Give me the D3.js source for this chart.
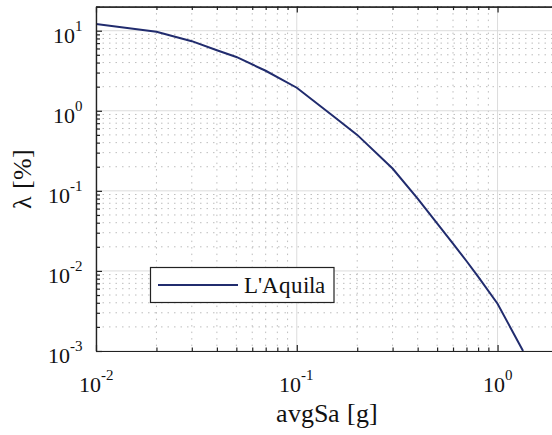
<!DOCTYPE html>
<html>
<head>
<meta charset="utf-8">
<script src="https://cdn.jsdelivr.net/npm/d3@7"></script>
<style>
  @font-face {
    font-family: "ChartSerif";
    src: local("Liberation Serif"), local("LiberationSerif"), local("LiberationSerif-Regular"), local("Times New Roman"), local("Tinos");
  }
  html, body { margin: 0; padding: 0; background: #fff; }
  svg text, svg tspan {
    font-family: "ChartSerif", "Liberation Serif", "Times New Roman", Tinos !important;
  }
</style>
</head>
<body>
<script>
// Hazard curve: mean annual rate of exceedance vs. average spectral acceleration
const imLevels = [0.01, 0.02, 0.03, 0.04, 0.05, 0.07, 0.1, 0.15, 0.2, 0.3, 0.4, 0.5, 0.6, 0.7, 0.8, 1.0, 1.34];
const exceedRate = [12.1, 9.7, 7.4, 5.7, 4.7, 3.16, 1.94, 0.88, 0.50, 0.19, 0.080, 0.0392, 0.0219, 0.0133, 0.0085, 0.0039, 0.001];
const seriesName = "L'Aquila";

const xMajorTicks = [0.01, 0.1, 1];
const xTickExponents = ["-2", "-1", "0"];
const yMajorTicks = [0.001, 0.01, 0.1, 1, 10];
const yTickExponents = ["-3", "-2", "-1", "0", "1"];

const xTitle = "avgSa [g]";
const yTitle = "\u03bb [%]";

const W = 552, H = 435;
const plot = { left: 96, right: 558, top: 6.6, bottom: 351 };

const svg = d3.select("body").append("svg")
  .attr("width", W).attr("height", H)
  .attr("font-family", "Liberation Serif");

const x = d3.scaleLog().domain([0.01, 2]).range([plot.left, plot.right]);
const y = d3.scaleLog().domain([0.001, 20]).range([plot.bottom, plot.top]);

// minor tick positions (2..9 within each decade)
function minors(lo, hi) {
  const out = [];
  for (let e = Math.floor(Math.log10(lo)); e <= Math.ceil(Math.log10(hi)); e++) {
    for (let m = 2; m <= 9; m++) {
      const v = m * Math.pow(10, e);
      if (v >= lo * 0.999 && v <= hi * 1.001) out.push(v);
    }
  }
  return out;
}
const xMinor = minors(0.01, 2);
const yMinor = minors(0.001, 20);

svg.append("defs").append("clipPath").attr("id", "plotclip")
  .append("rect")
  .attr("x", plot.left).attr("y", plot.top)
  .attr("width", plot.right - plot.left).attr("height", plot.bottom - plot.top);

// grid
const grid = svg.append("g");
grid.selectAll(".xminor").data(xMinor).join("line")
  .attr("x1", d => x(d)).attr("x2", d => x(d))
  .attr("y1", plot.top).attr("y2", plot.bottom)
  .attr("stroke", "#bdbdbd").attr("stroke-width", 1)
  .attr("stroke-dasharray", "1.5,5");
grid.selectAll(".yminor").data(yMinor).join("line")
  .attr("y1", d => y(d)).attr("y2", d => y(d))
  .attr("x1", plot.left).attr("x2", plot.right)
  .attr("stroke", "#bdbdbd").attr("stroke-width", 1)
  .attr("stroke-dasharray", "1.5,5");
grid.selectAll(".xmajor").data(xMajorTicks).join("line")
  .attr("x1", d => x(d)).attr("x2", d => x(d))
  .attr("y1", plot.top).attr("y2", plot.bottom)
  .attr("stroke", "#dcdcdc").attr("stroke-width", 1);
grid.selectAll(".ymajor").data(yMajorTicks).join("line")
  .attr("y1", d => y(d)).attr("y2", d => y(d))
  .attr("x1", plot.left).attr("x2", plot.right)
  .attr("stroke", "#dcdcdc").attr("stroke-width", 1);

// curve
const pts = imLevels.map((v, i) => [v, exceedRate[i]]);
svg.append("path")
  .datum(pts)
  .attr("clip-path", "url(#plotclip)")
  .attr("fill", "none")
  .attr("stroke", "#212c6e")
  .attr("stroke-width", 2)
  .attr("d", d3.line().x(d => x(d[0])).y(d => y(d[1])));

// axes (ticks point inward)
function styleAxis(g) {
  g.attr("font-family", null).attr("font-size", null);
  g.selectAll("path.domain").attr("stroke", "#222").attr("stroke-width", 1.2);
  g.selectAll(".tick line").attr("stroke", "#222").attr("stroke-width", 1.2);
  g.selectAll(".tick text").remove();
}
svg.append("g").attr("transform", `translate(0,${plot.bottom})`)
  .call(d3.axisBottom(x).tickValues(xMinor).tickSize(-3.5).tickSizeOuter(0).tickFormat(""))
  .call(styleAxis);
svg.append("g").attr("transform", `translate(0,${plot.bottom})`)
  .call(d3.axisBottom(x).tickValues(xMajorTicks).tickSize(-6).tickSizeOuter(0).tickFormat(""))
  .call(styleAxis);
svg.append("g").attr("transform", `translate(0,${plot.top})`)
  .call(d3.axisTop(x).tickValues(xMinor).tickSize(-3.5).tickSizeOuter(0).tickFormat(""))
  .call(styleAxis);
svg.append("g").attr("transform", `translate(0,${plot.top})`)
  .call(d3.axisTop(x).tickValues(xMajorTicks).tickSize(-6).tickSizeOuter(0).tickFormat(""))
  .call(styleAxis);
svg.append("g").attr("transform", `translate(${plot.left},0)`)
  .call(d3.axisLeft(y).tickValues(yMinor).tickSize(-4).tickSizeOuter(0).tickFormat(""))
  .call(styleAxis);
svg.append("g").attr("transform", `translate(${plot.left},0)`)
  .call(d3.axisLeft(y).tickValues(yMajorTicks).tickSize(-6).tickSizeOuter(0).tickFormat(""))
  .call(styleAxis);

// text helper (serif type throughout)
function label(sel, size) {
  return sel.append("text")
    .attr("font-family", "Liberation Serif")
    .attr("font-size", size)
    .attr("fill", "#111");
}

// tick labels as 10 with superscript exponent
const xl = svg.append("g");
xMajorTicks.forEach((v, i) => {
  const t = label(xl, 22)
    .attr("x", x(v)).attr("y", 392)
    .attr("text-anchor", "middle");
  t.append("tspan").text("10");
  t.append("tspan").attr("dy", -12).attr("font-size", 15).text(xTickExponents[i]);
});
const yl = svg.append("g");
yMajorTicks.forEach((v, i) => {
  const t = label(yl, 22)
    .attr("x", 83).attr("y", y(v) + 12)
    .attr("text-anchor", "end");
  t.append("tspan").text("10");
  t.append("tspan").attr("dy", -12).attr("font-size", 15).text(yTickExponents[i]);
});

// axis titles
label(svg, 26)
  .attr("x", (plot.left + plot.right) / 2).attr("y", 422)
  .attr("text-anchor", "middle")
  .text(xTitle);
label(svg, 26)
  .attr("transform", `translate(31,${(plot.top + plot.bottom) / 2}) rotate(-90)`)
  .attr("text-anchor", "middle")
  .text(yTitle);

// legend
const lg = svg.append("g");
lg.append("rect")
  .attr("x", 150.5).attr("y", 267.5).attr("width", 183.5).attr("height", 35)
  .attr("fill", "#fff").attr("stroke", "#222").attr("stroke-width", 1.2);
lg.append("line")
  .attr("x1", 158).attr("x2", 238).attr("y1", 285).attr("y2", 285)
  .attr("stroke", "#212c6e").attr("stroke-width", 2);
label(lg, 23)
  .attr("x", 244).attr("y", 293)
  .text(seriesName);
</script>
</body>
</html>
